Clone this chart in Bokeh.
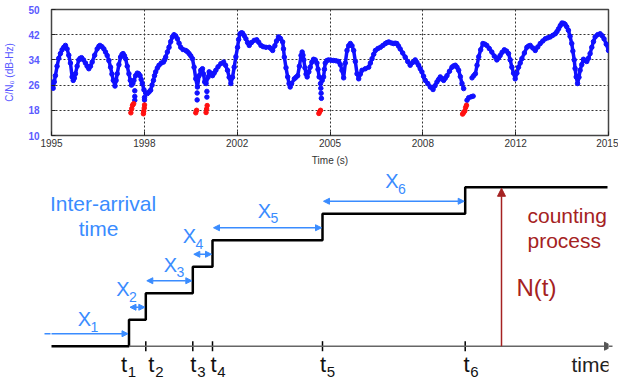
import numpy as np
from bokeh.plotting import figure
from bokeh.layouts import column
from bokeh.models import Range1d, FixedTicker, Arrow, NormalHead, Label
from bokeh.embed import file_html
from bokeh.resources import INLINE

# ---------------- top chart data: C/N0 time series ----------------
years = [1995.00, 1995.03, 1995.06, 1995.10, 1995.14, 1995.20, 1995.26, 1995.32, 1995.38, 1995.44,
         1995.50, 1995.56, 1995.62, 1995.68, 1995.74, 1995.78, 1995.82, 1995.86, 1995.92, 1995.98,
         1996.03, 1996.08, 1996.15, 1996.22, 1996.28, 1996.34, 1996.40, 1996.46, 1996.55, 1996.64,
         1996.70, 1996.74, 1996.81, 1996.88, 1996.94, 1997.00, 1997.06, 1997.12, 1997.17, 1997.22,
         1997.28, 1997.32, 1997.36, 1997.42, 1997.48, 1997.53, 1997.57, 1997.62, 1997.66, 1997.72,
         1997.78, 1997.83, 1997.87, 1997.92, 1997.96, 1998.02, 1998.08, 1998.13, 1998.18, 1998.22,
         1998.26, 1998.32, 1998.38, 1998.44, 1998.50, 1998.56, 1998.61, 1998.66, 1998.70, 1998.74,
         1998.80, 1998.86, 1998.94, 1999.02, 1999.06, 1999.10, 1999.16, 1999.22, 1999.28, 1999.34,
         1999.40, 1999.46, 1999.52, 1999.58, 1999.64, 1999.72, 1999.82, 1999.88, 1999.94, 2000.00,
         2000.06, 2000.12, 2000.18, 2000.24, 2000.30, 2000.36, 2000.42, 2000.46, 2000.50, 2000.55,
         2000.62, 2000.66, 2000.72, 2000.78, 2000.84, 2000.90, 2000.98, 2001.08, 2001.18, 2001.25,
         2001.32, 2001.38, 2001.44, 2001.50, 2001.56, 2001.62, 2001.68, 2001.72, 2001.77, 2001.82,
         2001.86, 2001.92, 2001.98, 2002.04, 2002.10, 2002.18, 2002.28, 2002.37, 2002.44, 2002.52,
         2002.60, 2002.70, 2002.82, 2002.88, 2002.94, 2003.02, 2003.08, 2003.15, 2003.22, 2003.30,
         2003.33, 2003.36, 2003.42, 2003.48, 2003.53, 2003.57, 2003.62, 2003.72, 2003.78, 2003.84,
         2003.90, 2003.96, 2004.00, 2004.03, 2004.06, 2004.10, 2004.14, 2004.18, 2004.24, 2004.29,
         2004.35, 2004.41, 2004.47, 2004.53, 2004.57, 2004.61, 2004.72, 2004.77, 2004.80, 2004.83,
         2004.89, 2004.95, 2005.04, 2005.13, 2005.22, 2005.31, 2005.37, 2005.43, 2005.49, 2005.55,
         2005.61, 2005.67, 2005.73, 2005.79, 2005.85, 2005.91, 2005.97, 2006.03, 2006.09, 2006.15,
         2006.27, 2006.39, 2006.45, 2006.51, 2006.57, 2006.63, 2006.72, 2006.81, 2006.90, 2006.99,
         2007.05, 2007.11, 2007.20, 2007.28, 2007.34, 2007.40, 2007.46, 2007.52, 2007.61, 2007.70,
         2007.79, 2007.88, 2007.97, 2008.06, 2008.12, 2008.18, 2008.24, 2008.30, 2008.36, 2008.42,
         2008.51, 2008.60, 2008.70, 2008.77, 2008.84, 2008.90, 2008.96, 2009.02, 2009.08, 2009.14,
         2009.20, 2009.29, 2009.38, 2009.44, 2009.50, 2009.56, 2009.62, 2009.68, 2009.74, 2009.80,
         np.nan,
         2010.10, 2010.16, 2010.22, 2010.28, 2010.34, 2010.41, 2010.49, 2010.56, 2010.63, 2010.72,
         2010.81, 2010.90, 2010.99, 2011.05, 2011.11, 2011.18, 2011.26, 2011.34, 2011.41, 2011.47,
         2011.53, 2011.59, 2011.65, 2011.71, 2011.77, 2011.83, 2011.89, 2011.98, 2012.07, 2012.13,
         2012.19, 2012.28, 2012.37, 2012.46, 2012.55, 2012.64, 2012.73, 2012.82, 2012.91, 2013.00,
         2013.09, 2013.15, 2013.21, 2013.27, 2013.33, 2013.39, 2013.44, 2013.50, 2013.56, 2013.62,
         2013.68, 2013.72, 2013.77, 2013.80, 2013.84, 2013.89, 2013.94, 2013.98, 2014.04, 2014.10,
         2014.16, 2014.22, 2014.28, 2014.34, 2014.40, 2014.46, 2014.52, 2014.61, 2014.70, 2014.77,
         2014.84, 2014.92, 2015.00]
cn0 = [27.0, 25.5, 25.0, 27.0, 29.0, 32.0, 34.5, 36.0, 37.2, 38.0,
       38.6, 37.5, 35.5, 33.0, 28.6, 27.5, 28.2, 29.6, 32.0, 34.0,
       34.5, 34.7, 34.0, 33.0, 32.0, 31.2, 32.0, 33.3, 35.5, 37.5,
       38.3, 38.6, 38.2, 37.5, 36.5, 35.4, 33.8, 31.7, 29.5, 27.5,
       25.7, 27.5, 29.6, 32.5, 34.9, 35.7, 36.0, 35.3, 34.4, 32.0,
       29.6, 27.5, 26.0, 26.5, 27.5, 29.0, 29.8, 29.6, 29.0, 27.8,
       26.5, 24.5, 23.5, 23.3, 23.8, 24.4, 26.0, 27.5, 29.0, 30.2,
       31.4, 32.3, 33.0, 33.3, 34.0, 34.9, 36.5, 38.0, 39.8, 41.3,
       42.0, 41.6, 40.7, 39.3, 38.0, 37.3, 37.0, 36.6, 36.0, 35.3,
       34.4, 31.7, 28.0, 25.4, 29.0, 30.7, 31.2, 29.5, 27.0, 26.5,
       28.5, 30.2, 29.8, 29.0, 29.8, 30.7, 31.8, 32.8, 33.3, 32.3,
       30.7, 28.5, 26.5, 28.5, 31.7, 35.0, 38.0, 40.5, 42.3, 42.6,
       42.5, 41.7, 40.7, 39.5, 38.6, 39.5, 40.2, 40.4, 39.6, 38.6,
       38.2, 38.0, 38.0, 37.6, 37.0, 38.5, 40.0, 41.3, 40.8, 39.7,
       37.5, 34.9, 31.5, 28.6, 26.5, 25.4, 26.5, 28.0, 28.5, 29.0,
       32.0, 35.4, 36.5, 35.5, 34.0, 31.5, 29.5, 28.6, 30.2, 31.7,
       33.3, 34.2, 34.0, 33.0, 31.0, 28.6, 27.5, 28.6, 31.0, 33.0,
       33.8, 34.0, 33.9, 33.8, 33.7, 33.5, 32.5, 30.7, 28.3, 33.0,
       37.0, 38.5, 39.2, 38.5, 37.0, 33.5, 29.6, 28.0, 29.5, 30.7,
       31.2, 31.7, 33.0, 34.4, 35.8, 37.0, 37.6, 38.0, 38.6, 39.2,
       39.5, 39.7, 39.4, 39.2, 39.3, 39.2, 38.4, 37.5, 36.2, 34.9,
       33.5, 32.3, 33.2, 34.0, 33.2, 32.3, 31.2, 30.2, 28.8, 27.5,
       26.5, 25.4, 24.6, 25.8, 27.0, 27.8, 28.6, 28.0, 27.5, 28.2,
       29.0, 30.4, 31.7, 32.1, 32.3, 31.7, 30.7, 28.7, 26.5, 24.9,
       np.nan,
       28.3, 29.0, 29.6, 32.3, 35.0, 37.2, 39.2, 39.0, 38.6, 37.6,
       36.5, 35.2, 34.0, 34.6, 35.4, 36.4, 37.2, 36.8, 36.0, 34.0,
       31.7, 29.8, 28.0, 29.8, 31.7, 33.0, 34.4, 36.2, 38.0, 38.4,
       38.6, 37.8, 37.0, 38.1, 39.2, 40.0, 40.7, 41.0, 41.3, 41.8,
       42.3, 43.0, 43.9, 44.9, 45.7, 45.6, 45.3, 44.5, 43.4, 41.5,
       39.2, 36.8, 34.0, 31.3, 28.6, 26.5, 28.5, 30.7, 32.5, 34.2,
       33.8, 33.5, 34.5, 36.0, 38.0, 39.8, 41.3, 42.0, 42.3, 41.7,
       40.7, 39.0, 37.0]

# fades below the curve (blue) and lost-lock samples (red)
fade_years = [1997.99, 1997.99, 1997.99, 1998.34, 1998.34, 2000.23, 2000.23, 2000.58, 2000.58,
              2004.66, 2004.67, 2004.68, 2004.69, 2009.92, 2009.98, 2010.07, 2010.14]
fade_cn0 = [24.2, 22.4, 21.2, 22.1, 21.3, 23.5, 21.3, 24.0, 22.2,
            26.5, 25.0, 23.4, 21.8, 21.2, 22.0, 22.3, 22.5]
lost_years = [1997.85, 1997.88, 1997.91, 1997.95, 1998.30, 1998.31, 1998.33, 1998.34,
              2000.18, 2000.21, 2000.55, 2000.57, 2000.59, 2004.60, 2004.63, 2004.66,
              2009.76, 2009.80, 2009.84, 2009.87, 2009.90]
lost_cn0 = [17.2, 18.5, 19.6, 20.1, 16.9, 17.7, 18.7, 19.7,
            17.2, 18.0, 17.3, 18.4, 19.5, 17.0, 17.6, 18.0,
            16.8, 17.3, 17.8, 18.9, 19.6]

y_ticks = [10, 18, 26, 34, 42, 50]
x_tick_labels = ["1995", "1998", "2002", "2005", "2008", "2012", "2015"]

# ---------------- bottom diagram data: counting process ----------------
t_start = 50.0            # diagram time at which the process starts
t_end = 607.0             # right end of the drawn process
event_times = [128.5, 145.3, 192.3, 212.0, 322.0, 464.7]
counts = [0, 1, 2, 3, 4, 5, 6]
t_observe = 501.0         # time at which N(t) is shown
sub_names = ["1", "2", "3", "4", "5", "6"]

FONT = "Liberation Sans"
BLUE_T = "#3a8cff"
RED_T = "#a52222"
W = 618
BL, BR = 51, 10
H1 = 168

# ================= top figure =================
p1 = figure(width=W, height=H1, x_range=Range1d(1995, 2015), y_range=Range1d(10, 50),
            output_backend="svg", toolbar_location=None,
            min_border_left=BL, min_border_right=BR, min_border_top=9, min_border_bottom=33)
p1.background_fill_color = "white"
p1.border_fill_color = "white"
p1.outline_line_color = "#444444"
p1.outline_line_width = 1.5

xt = [1995 + k * 20 / 6 for k in range(7)]
p1.xaxis.ticker = FixedTicker(ticks=xt)
p1.xaxis.major_label_overrides = {xt[k]: x_tick_labels[k] for k in range(7)}
p1.yaxis.ticker = FixedTicker(ticks=y_ticks)

for ax in (p1.xaxis[0], p1.yaxis[0]):
    ax.axis_line_color = None
    ax.major_tick_in = 4
    ax.major_tick_out = 0
    ax.major_tick_line_color = "#222222"
    ax.minor_tick_line_color = None
    ax.major_label_text_font = FONT
    ax.major_label_text_font_size = "10px"
    ax.axis_label_text_font = FONT
    ax.axis_label_text_font_size = "10px"
    ax.axis_label_text_font_style = "normal"

p1.xaxis.major_label_text_color = "#333333"
p1.xaxis.major_label_standoff = 3
p1.xaxis.axis_label = "Time (s)"
p1.xaxis.axis_label_text_color = "#333333"
p1.xaxis.axis_label_standoff = 5

p1.yaxis.major_label_text_color = "#5a5aff"
p1.yaxis.major_label_text_font_style = "bold"
p1.yaxis.major_label_standoff = 12
p1.yaxis.axis_label = "C/N\u2080 (dB-Hz)"
p1.yaxis.axis_label_text_color = "#5a5aff"
p1.yaxis.axis_label_standoff = 10

p1.grid.grid_line_color = "#333333"
p1.grid.grid_line_dash = "2 2"
p1.grid.grid_line_width = 1

p1.line(years, cn0, line_color="#1010ff", line_width=3.5)
p1.scatter(years, cn0, size=4.5, fill_color="#1010ff", line_color="#1010ff")
p1.scatter(fade_years, fade_cn0, size=4.5, fill_color="#1010ff", line_color="#1010ff")
p1.scatter(lost_years, lost_cn0, size=4.5, fill_color="#ff1010", line_color="#ff1010")

# ================= bottom figure =================
# same side borders as the top figure, so the stacked frames line up;
# x in diagram units that match the picture's horizontal positions
H2 = 389 - H1
p2 = figure(width=W, height=H2, x_range=Range1d(51, 608), y_range=Range1d(-1.634, 6.706),
            output_backend="svg", toolbar_location=None,
            x_axis_type=None, y_axis_type=None,
            min_border_left=BL, min_border_right=BR, min_border_top=0, min_border_bottom=0)
p2.grid.visible = False
p2.outline_line_color = None
p2.background_fill_color = "white"
p2.border_fill_color = "white"

# time axis
p2.add_layout(Arrow(end=NormalHead(size=8, fill_color="#555555", line_color="#555555"),
                    x_start=event_times[0], y_start=0, x_end=t_end + 5, y_end=0,
                    line_color="#666666", line_width=1.5))

# ticks on the time axis
p2.segment(x0=event_times[1:], y0=[-0.19] * 5, x1=event_times[1:], y1=[0.19] * 5,
           line_color="black", line_width=1.5)

# counting process staircase
step_x = [t_start] + event_times + [t_end]
step_y = counts + [counts[-1]]
p2.step(step_x, step_y, mode="after", line_color="black", line_width=2.5)

# inter-arrival arrows
prev = [43.0] + event_times[:-1]
for i in range(6):
    y_arr = counts[i] + 0.47
    p2.add_layout(Arrow(start=NormalHead(size=6, fill_color=BLUE_T, line_color=BLUE_T),
                        end=NormalHead(size=6, fill_color=BLUE_T, line_color=BLUE_T),
                        x_start=prev[i] + 1, y_start=y_arr, x_end=event_times[i] - 1, y_end=y_arr,
                        line_color=BLUE_T, line_width=1.5))


def add_text(x, y, txt, size, color, align="center"):
    p2.add_layout(Label(x=x, y=y, text=txt, text_font=FONT, text_font_size=size,
                        text_color=color, text_align=align, text_baseline="middle"))


# X_i labels
x_lab_x = [84.0, 122.5, 170.0, 189.0, 264.0, 391.5]
x_lab_y = [1.01, 2.14, 3.08, 4.14, 5.11, 6.22]
for i in range(6):
    add_text(x_lab_x[i], x_lab_y[i], "X", "20px", BLUE_T)
    add_text(x_lab_x[i] + 10, x_lab_y[i] - 0.27, sub_names[i], "14px", BLUE_T)

# t_i labels
t_off = [-5.0, 5.5, 0.5, 1.0, 0.5, 1.3]
for i in range(6):
    tx = event_times[i] + t_off[i]
    add_text(tx, -0.69, "t", "22px", "#111111")
    add_text(tx + 8, -0.96, sub_names[i], "15px", "#111111")

# other texts
add_text(102.5, 5.385, "Inter-arrival", "21px", BLUE_T)
add_text(98.0, 4.44, "time", "21px", BLUE_T)
add_text(527.0, 4.93, "counting", "21px", RED_T, "left")
add_text(527.0, 3.99, "process", "21px", RED_T, "left")
add_text(516.0, 2.215, "N(t)", "24px", RED_T, "left")
add_text(571.0, -0.69, "time", "21px", "#222222", "left")

# N(t) arrow
p2.add_layout(Arrow(end=NormalHead(size=8, fill_color=RED_T, line_color=RED_T),
                    x_start=t_observe, y_start=counts[0], x_end=t_observe, y_end=counts[-1] - 0.04,
                    line_color=RED_T, line_width=1.5))

layout = column(p1, p2)
open("out.html", "w").write(file_html(layout, INLINE))
